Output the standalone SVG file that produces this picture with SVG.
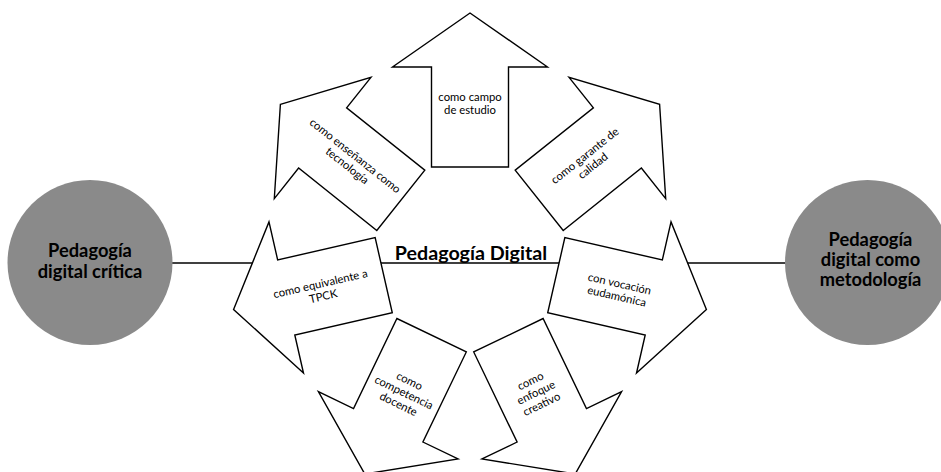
<svg xmlns="http://www.w3.org/2000/svg" xmlns:xlink="http://www.w3.org/1999/xlink" width="941" height="472" viewBox="0 0 941 472">
  <style>
    .arrow { fill: #ffffff; stroke: #000000; stroke-width: 1.4; stroke-linejoin: miter; }
    .lbl { font-family: Lato, "Open Sans", "Liberation Sans", sans-serif; font-size: 11.3px; fill: #000000; text-anchor: middle; }
    .pole { fill: #8a8a8a; }
    .poletxt { font-family: Lato, "Open Sans", "Liberation Sans", sans-serif; font-size: 18.3px; font-weight: bold; fill: #000000; text-anchor: middle; }
    .title { font-family: Lato, "Open Sans", "Liberation Sans", sans-serif; font-size: 19.7px; font-weight: bold; fill: #000000; text-anchor: middle; }
    .link { stroke: #000000; stroke-width: 1.6; fill: none; }
  </style>
  <defs>
    <!-- outward arrow, pointing up, drawn around the ring centre at the origin -->
    <polygon id="ray" points="0,-242.5 77.5,-188.5 38.5,-188.5 38.5,-88.5 -38.5,-88.5 -38.5,-188.5 -77.5,-188.5"/>
  </defs>
  <rect width="941" height="472" fill="#ffffff"/>

  <g id="connectors">
    <line class="link" x1="172" y1="263" x2="786" y2="263"/>
  </g>

  <g id="pole-left">
    <circle class="pole" cx="90" cy="262.5" r="82.5"/>
    <text class="poletxt" x="90" y="257">Pedagogía</text>
    <text class="poletxt" x="90" y="277.5">digital crítica</text>
  </g>

  <g id="pole-right">
    <circle class="pole" cx="867.5" cy="262.5" r="82.5"/>
    <text class="poletxt" x="870.5" y="246">Pedagogía</text>
    <text class="poletxt" x="870.5" y="266">digital como</text>
    <text class="poletxt" x="870.5" y="286">metodología</text>
  </g>

  <g id="ring" transform="translate(470,255.5)">
    <g id="arrow-campo">
      <use xlink:href="#ray" class="arrow"/>
      <g transform="translate(0,-152)">
        <text class="lbl" y="-2.5">como campo</text>
        <text class="lbl" y="10.3">de estudio</text>
      </g>
    </g>
    <g id="arrow-garante">
      <use xlink:href="#ray" class="arrow" transform="rotate(51.43)"/>
      <g transform="translate(118.8,-94.8) rotate(-38.57)">
        <text class="lbl" y="-2.5">como garante de</text>
        <text class="lbl" y="10.3">calidad</text>
      </g>
    </g>
    <g id="arrow-vocacion">
      <use xlink:href="#ray" class="arrow" transform="rotate(102.86)"/>
      <g transform="translate(148.2,34.5) rotate(12.86)">
        <text class="lbl" y="-2.5">con vocación</text>
        <text class="lbl" y="10.3">eudamónica</text>
      </g>
    </g>
    <g id="arrow-creativo">
      <use xlink:href="#ray" class="arrow" transform="rotate(154.29)"/>
      <g transform="translate(66,137) rotate(-25.71)">
        <text class="lbl" y="-8.9">como</text>
        <text class="lbl" y="3.9">enfoque</text>
        <text class="lbl" y="16.7">creativo</text>
      </g>
    </g>
    <g id="arrow-competencia">
      <use xlink:href="#ray" class="arrow" transform="rotate(205.71)"/>
      <g transform="translate(-66,137) rotate(25.71)">
        <text class="lbl" y="-8.9">como</text>
        <text class="lbl" y="3.9">competencia</text>
        <text class="lbl" y="16.7">docente</text>
      </g>
    </g>
    <g id="arrow-tpck">
      <use xlink:href="#ray" class="arrow" transform="rotate(257.14)"/>
      <g transform="translate(-148.2,34.5) rotate(-12.86)">
        <text class="lbl" y="-2.5">como equivalente a</text>
        <text class="lbl" y="10.3">TPCK</text>
      </g>
    </g>
    <g id="arrow-tecnologia">
      <use xlink:href="#ray" class="arrow" transform="rotate(308.57)"/>
      <g transform="translate(-118.8,-94.8) rotate(38.57)">
        <text class="lbl" y="-2.5">como enseñanza como</text>
        <text class="lbl" y="10.3">tecnología</text>
      </g>
    </g>
  </g>

  <g id="title">
    <text class="title" x="471" y="259.5">Pedagogía Digital</text>
  </g>
</svg>
